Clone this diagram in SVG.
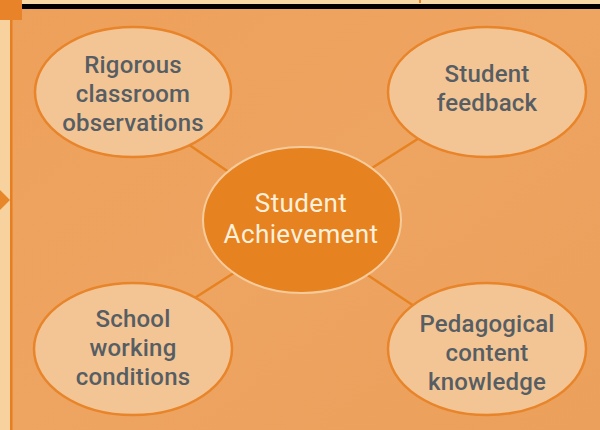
<svg xmlns="http://www.w3.org/2000/svg" width="600" height="430" viewBox="0 0 600 430">
  <defs>
    <linearGradient id="bg" x1="0" y1="0" x2="1" y2="1">
      <stop offset="0" stop-color="#EDA05A"/>
      <stop offset="0.5" stop-color="#EEA561"/>
      <stop offset="1" stop-color="#EBA05B"/>
    </linearGradient>
    <style>
      .outer { fill: #F3C595; stroke: #E8842A; stroke-width: 2.5; }
      .core { fill: #E6821F; stroke: #F6CB9C; stroke-width: 2; }
      .conn { stroke: #E6821F; stroke-width: 2.5; fill: none; }
      .lbl { font-family: Roboto, "Open Sans", "Liberation Sans", sans-serif; font-size: 24px; font-weight: 500; fill: #575E63; text-anchor: middle; letter-spacing: 0.2px; }
      .clbl { font-family: Roboto, "Open Sans", "Liberation Sans", sans-serif; font-size: 26px; font-weight: 400; fill: #FFF0DC; text-anchor: middle; letter-spacing: 0.4px; }
    </style>
  </defs>

  <!-- background -->
  <rect x="0" y="0" width="600" height="430" fill="url(#bg)"/>
  <rect x="0" y="0" width="600" height="4" fill="#F8D8A5"/>
  <rect x="0" y="4" width="600" height="5" fill="#000000"/>
  <rect x="419" y="0" width="2" height="3" fill="#E8842A"/>
  <rect x="0" y="0" width="10" height="430" fill="#F7D29E"/>
  <rect x="10" y="0" width="2.5" height="430" fill="#E67E22"/>
  <rect x="0" y="0" width="22" height="20" fill="#E8832A"/>
  <polygon points="0,190 10,200 0,210" fill="#E8862A"/>

  <g id="connectors">
    <line class="conn" x1="185" y1="142" x2="236" y2="177"/>
    <line class="conn" x1="424" y1="135" x2="364" y2="173"/>
    <line class="conn" x1="190" y1="301" x2="240" y2="269"/>
    <line class="conn" x1="420" y1="310" x2="360" y2="270"/>
  </g>

  <g id="node-observations">
    <ellipse class="outer" cx="133" cy="92" rx="98" ry="65"/>
    <text class="lbl" x="133" y="73">Rigorous</text>
    <text class="lbl" x="133" y="102">classroom</text>
    <text class="lbl" x="133" y="131">observations</text>
  </g>

  <g id="node-feedback">
    <ellipse class="outer" cx="487" cy="92" rx="99" ry="65"/>
    <text class="lbl" x="487" y="82">Student</text>
    <text class="lbl" x="487" y="111">feedback</text>
  </g>

  <g id="node-working">
    <ellipse class="outer" cx="133" cy="349" rx="99" ry="66"/>
    <text class="lbl" x="133" y="327">School</text>
    <text class="lbl" x="133" y="356">working</text>
    <text class="lbl" x="133" y="385">conditions</text>
  </g>

  <g id="node-pck">
    <ellipse class="outer" cx="487" cy="349" rx="99" ry="66"/>
    <text class="lbl" x="487" y="332">Pedagogical</text>
    <text class="lbl" x="487" y="361">content</text>
    <text class="lbl" x="487" y="390">knowledge</text>
  </g>

  <g id="node-achievement">
    <ellipse class="core" cx="302" cy="220" rx="99" ry="73"/>
    <text class="clbl" x="301" y="212">Student</text>
    <text class="clbl" x="301" y="243">Achievement</text>
  </g>
</svg>
